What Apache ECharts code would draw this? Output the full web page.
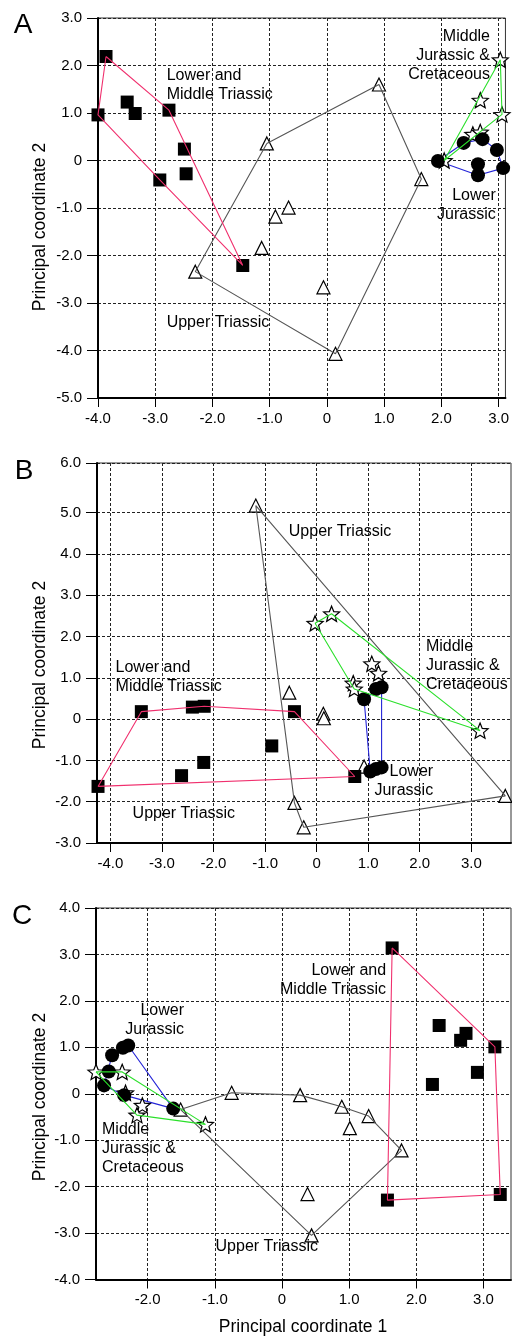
<!DOCTYPE html>
<html><head><meta charset="utf-8">
<script src="https://cdn.jsdelivr.net/npm/echarts@6/dist/echarts.min.js"></script>
<style>html,body{margin:0;padding:0;background:#fff}#c{width:512px;height:1339px}</style>
</head><body><div id="c"></div>
<script>
// ---------- Panel A data ----------
const A_xTicks = [-4, -3, -2, -1, 0, 1, 2, 3];
const A_yTicks = [-5, -4, -3, -2, -1, 0, 1, 2, 3];
const A_lowerMiddleTriassic = [[-3.86,2.19],[-4.00,0.96],[-3.49,1.23],[-3.35,0.99],[-2.76,1.06],[-2.49,0.24],[-2.46,-0.28],[-2.92,-0.41],[-1.47,-2.21]];
const A_upperTriassic = [[0.91,1.60],[-1.05,0.36],[1.65,-0.39],[-0.67,-0.99],[-0.90,-1.18],[-1.14,-1.84],[-0.06,-2.67],[0.15,-4.07],[-2.30,-2.34]];
const A_lowerJurassic = [[1.94,-0.01],[2.39,0.37],[2.72,0.45],[2.97,0.22],[3.08,-0.16],[2.64,-0.08],[2.64,-0.31]];
const A_midJurCret = [[2.05,0.00],[2.55,0.55],[2.68,0.60],[2.68,1.27],[3.03,2.12],[3.06,0.97]];
const A_hulls = {lmt:[0,4,8,7,1], ut:[1,0,2,7,8], lj:[0,1,2,3,4,6], mjc:[0,4,5]};
const A_notes = [
  {text:'Lower and\nMiddle Triassic', at:[-2.80,1.58], side:'right'},
  {text:'Upper Triassic', at:[-2.80,-3.42], side:'right'},
  {text:'Middle\nJurassic &\nCretaceous', at:[2.85,2.20], side:'left'},
  {text:'Lower\nJurassic', at:[2.95,-0.93], side:'left'}
];
// ---------- Panel B data ----------
const B_xTicks = [-4, -3, -2, -1, 0, 1, 2, 3];
const B_yTicks = [-3, -2, -1, 0, 1, 2, 3, 4, 5, 6.2];
const B_lowerMiddleTriassic = [[-4.24,-1.63],[-3.40,0.18],[-2.41,0.29],[-2.18,0.31],[-2.19,-1.05],[-2.62,-1.37],[-0.43,0.18],[-0.87,-0.65],[0.74,-1.39]];
const B_upperTriassic = [[-1.18,5.17],[-0.53,0.64],[0.13,0.13],[0.14,0.02],[0.92,-1.15],[-0.43,-2.03],[-0.25,-2.62],[3.66,-1.86]];
const B_lowerJurassic = [[0.92,0.48],[1.15,0.73],[1.26,0.77],[1.04,-1.27],[1.15,-1.21],[1.26,-1.17]];
const B_midJurCret = [[-0.03,2.32],[0.29,2.55],[1.07,1.34],[1.20,1.11],[0.71,0.87],[0.73,0.73],[3.17,-0.28]];
const B_hulls = {lmt:[0,1,3,6,8], ut:[0,7,6,5], lj:[0,2,5,3], mjc:[0,1,6,5]};
const B_notes = [
  {text:'Upper Triassic', at:[-0.54,4.54], side:'right'},
  {text:'Middle\nJurassic &\nCretaceous', at:[2.12,1.29], side:'right'},
  {text:'Lower and\nMiddle Triassic', at:[-3.90,1.01], side:'right'},
  {text:'Upper Triassic', at:[-3.57,-2.28], side:'right'},
  {text:'Lower\nJurassic', at:[2.26,-1.49], side:'left'}
];
// ---------- Panel C data ----------
const C_xTicks = [-2, -1, 0, 1, 2, 3];
const C_yTicks = [-4, -3, -2, -1, 0, 1, 2, 3, 4];
const C_lowerMiddleTriassic = [[1.64,3.14],[2.34,1.47],[2.74,1.30],[2.66,1.15],[3.17,1.01],[2.91,0.46],[2.24,0.20],[1.57,-2.29],[3.25,-2.17]];
const C_upperTriassic = [[-1.51,-0.34],[-0.75,0.02],[0.27,-0.03],[0.89,-0.28],[1.29,-0.48],[1.01,-0.74],[1.78,-1.22],[0.38,-2.16],[0.44,-3.05]];
const C_lowerJurassic = [[-2.29,1.04],[-2.37,0.99],[-2.53,0.83],[-2.58,0.48],[-2.65,0.18],[-2.35,-0.03],[-1.62,-0.32]];
const C_midJurCret = [[-2.77,0.47],[-2.38,0.47],[-2.33,0.02],[-2.08,-0.25],[-2.16,-0.46],[-1.14,-0.66]];
const C_hulls = {lmt:[0,4,8,7], ut:[0,1,2,3,4,6,8], lj:[4,2,0,6,5], mjc:[0,1,5,4]};
const C_notes = [
  {text:'Lower\nJurassic', at:[-1.46,1.58], side:'left'},
  {text:'Middle\nJurassic &\nCretaceous', at:[-2.68,-1.18], side:'right'},
  {text:'Upper Triassic', at:[-0.99,-3.30], side:'right'},
  {text:'Lower and\nMiddle Triassic', at:[1.55,2.44], side:'left'}
];

const FONT = '"Liberation Sans", Arial, Helvetica, sans-serif';
const STAR = 'path://M50 0 L62.93 32.2 L97.55 34.55 L70.92 56.8 L79.39 90.45 L50 72 L20.61 90.45 L29.08 56.8 L2.45 34.55 L37.07 32.2 Z';
function fmt(v){ const r = Math.round(v); return r === 0 ? '0' : r.toFixed(1); }

const panels = [
  {grid:{left:98, top:18, right:1, height:380}, x:[-4,3.12], y:[-5,3], xt:A_xTicks, yt:A_yTicks,
   g:{lmt:A_lowerMiddleTriassic, ut:A_upperTriassic, lj:A_lowerJurassic, mjc:A_midJurCret}, h:A_hulls, n:A_notes},
  {grid:{left:97, top:463, right:1, height:380}, x:[-4.26,3.77], y:[-3,6.2], xt:B_xTicks, yt:B_yTicks,
   g:{lmt:B_lowerMiddleTriassic, ut:B_upperTriassic, lj:B_lowerJurassic, mjc:B_midJurCret}, h:B_hulls, n:B_notes},
  {grid:{left:96, top:908, right:1, height:371.5}, x:[-2.77,3.41], y:[-4,4], xt:C_xTicks, yt:C_yTicks,
   g:{lmt:C_lowerMiddleTriassic, ut:C_upperTriassic, lj:C_lowerJurassic, mjc:C_midJurCret}, h:C_hulls, n:C_notes}
];

const markStyle = {
  lmt:{symbol:'rect', symbolSize:13, itemStyle:{color:'#000', opacity:1}},
  ut:{symbol:'triangle', symbolSize:13, itemStyle:{color:'#fff', borderColor:'#000', borderWidth:1.2, opacity:1}},
  lj:{symbol:'circle', symbolSize:14, itemStyle:{color:'#000', opacity:1}},
  mjc:{symbol:STAR, symbolSize:16, symbolKeepAspect:true, itemStyle:{color:'#fff', borderColor:'#000', borderWidth:1.2, opacity:1}}
};
const lineColor = {lmt:'#f0306e', ut:'#555555', lj:'#2424d8', mjc:'#2be02b'};
const lineZ = {lmt:3, ut:3, lj:1, mjc:3};

const grids = [], xAxes = [], yAxes = [], series = [];
panels.forEach((p, i) => {
  grids.push(Object.assign({show:true, borderColor:'#333', borderWidth:1, backgroundColor:'transparent'}, p.grid));
  const axisCommon = (ticks, isX) => ({
    type:'value', gridIndex:i,
    axisLine:{show:true, onZero:false, lineStyle:{color:'#000', width:2}},
    axisTick:{show:true, inside:false, length: isX ? 9 : 11, customValues:ticks, lineStyle:{color:'#000', width:1}},
    axisLabel:{customValues:ticks, formatter:fmt, margin: isX ? 13 : 16, color:'#000', fontSize:15, fontFamily:FONT},
    splitLine:{show:true, lineStyle:{color:'#222', type:[3,2], width:1}}
  });
  xAxes.push(Object.assign(axisCommon(p.xt, true), {min:p.x[0], max:p.x[1]}));
  yAxes.push(Object.assign(axisCommon(p.yt, false), {min:p.y[0], max:p.y[1]}));
  ['ut','lmt','mjc','lj'].forEach(k => {
    series.push(Object.assign({type:'scatter', xAxisIndex:i, yAxisIndex:i, data:p.g[k], clip:false, silent:true, z:2}, markStyle[k]));
  });
  ['ut','lmt','mjc','lj'].forEach(k => {
    const idx = p.h[k].concat([p.h[k][0]]);
    series.push({type:'line', xAxisIndex:i, yAxisIndex:i, data: idx.map(j => p.g[k][j]), symbol:'none', clip:false, silent:true, z:lineZ[k],
      lineStyle:{color:lineColor[k], width:1.1, opacity:1}});
  });
  series.push({type:'scatter', xAxisIndex:i, yAxisIndex:i, symbolSize:0, silent:true, clip:false, z:5,
    itemStyle:{opacity:1},
    data: p.n.map(a => ({value:a.at, label:{show:true, formatter:a.text, position:a.side, distance:0}})),
    label:{color:'#000', fontSize:16, fontFamily:FONT, lineHeight:19, opacity:1}
  });
});

const chart = echarts.init(document.getElementById('c'), null, {renderer:'canvas'});
const txt = (t, x, y, size, rot) => ({type:'text', x:x, y:y, rotation:rot||0, z:10, silent:true,
  style:{text:t, fill:'#000', font: size + 'px ' + FONT, align:'center', verticalAlign:'middle', textAlign:'center', textVerticalAlign:'middle'}});
chart.setOption({
  animation:false,
  backgroundColor:'#fff',
  grid:grids, xAxis:xAxes, yAxis:yAxes, series:series,
  graphic:[
    txt('A', 23, 25, 28), txt('B', 24, 471, 28), txt('C', 22, 916, 28),
    txt('Principal coordinate 2', 40, 227, 17.5, Math.PI/2),
    txt('Principal coordinate 2', 40, 665, 17.5, Math.PI/2),
    txt('Principal coordinate 2', 40, 1097, 17.5, Math.PI/2),
    txt('Principal coordinate 1', 303, 1327, 17.5)
  ]
});
</script></body></html>
